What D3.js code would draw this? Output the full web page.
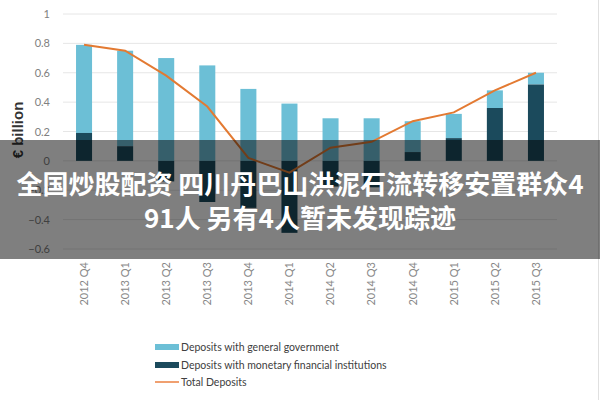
<!DOCTYPE html>
<html><head><meta charset="utf-8">
<script src="https://cdn.jsdelivr.net/npm/d3@7"></script>
<style>html,body{margin:0;padding:0;background:#fff;}svg{display:block;}</style>
</head><body>
<svg id="chart" width="600" height="400"></svg>
<script>
const categories = ["2012 Q4","2013 Q1","2013 Q2","2013 Q3","2013 Q4","2014 Q1","2014 Q2","2014 Q3","2014 Q4","2015 Q1","2015 Q2","2015 Q3"];
const govDeposits = [0.60, 0.65, 0.70, 0.65, 0.49, 0.39, 0.29, 0.29, 0.21, 0.165, 0.12, 0.08];
const mfiDeposits = [0.19, 0.10, -0.14, -0.28, -0.32, -0.49, -0.175, -0.18, 0.06, 0.155, 0.36, 0.52];
const totalDeposits = [0.79, 0.75, 0.58, 0.37, 0.02, -0.08, 0.09, 0.13, 0.27, 0.33, 0.48, 0.60];
const yTicks = [-0.6, -0.4, -0.2, 0, 0.2, 0.4, 0.6, 0.8, 1];
const legendLabels = ["Deposits with general government", "Deposits with monetary financial institutions", "Total Deposits"];
const bannerLines = ["全国炒股配资 四川丹巴山洪泥石流转移安置群众4", "91人 另有4人暂未发现踪迹"];

const colLight = "#6cbfd6", colDark = "#1b4a5c", colLine = "#e37a32";
const svg = d3.select("#chart");

const x = d3.scaleBand().domain(categories).range([63.5, 556.5]).paddingInner(0.61).paddingOuter(0.305);
const y = d3.scaleLinear().domain([-0.6, 1]).range([249, 14]);

// gridlines
svg.append("g").selectAll("line").data(yTicks).join("line")
  .attr("x1", 63).attr("x2", 557)
  .attr("y1", d => y(d)).attr("y2", d => y(d))
  .attr("stroke", "#e6e6e6").attr("stroke-width", 1);

// y axis labels
const yAxis = d3.axisLeft(y).tickValues(yTicks).tickSize(0).tickPadding(0)
  .tickFormat(d => d === 0 ? "0" : d3.format("")(+d.toFixed(1)));
const ya = svg.append("g").attr("transform", "translate(50,0)").call(yAxis);
ya.select(".domain").remove();
ya.selectAll("text").attr("font-family", "Lato, 'Open Sans', sans-serif").attr("font-size", 11).attr("fill", "#808080");

// y title
svg.append("text").attr("transform", "translate(23,130) rotate(-90)")
  .attr("text-anchor", "middle").attr("font-family", "'Liberation Sans', Arial, sans-serif")
  .attr("font-weight", "bold").attr("font-size", 15).attr("fill", "#333").text("€ billion");

// stacked bars
const gBars = svg.append("g");
categories.forEach((c, i) => {
  const m = mfiDeposits[i], g = govDeposits[i];
  const base = Math.max(m, 0);
  // gov (light) on top of positive part
  gBars.append("rect").attr("x", x(c)).attr("width", x.bandwidth())
    .attr("y", y(base + g)).attr("height", y(base) - y(base + g)).attr("fill", colLight);
  // mfi (dark)
  gBars.append("rect").attr("x", x(c)).attr("width", x.bandwidth())
    .attr("y", y(Math.max(m, 0))).attr("height", Math.abs(y(m) - y(0))).attr("fill", colDark);
});

// total line
const line = d3.line().x((d, i) => x(categories[i]) + x.bandwidth() / 2).y(d => y(d));
svg.append("path").datum(totalDeposits).attr("d", line)
  .attr("fill", "none").attr("stroke", colLine).attr("stroke-width", 2);

// x axis labels
const xAxis = d3.axisBottom(x).tickSize(0).tickPadding(0);
const xa = svg.append("g").attr("transform", "translate(0,262)").call(xAxis);
xa.select(".domain").remove();
xa.selectAll("text").attr("transform", "rotate(-90)").attr("text-anchor", "end")
  .attr("x", 0).attr("y", 0).attr("dy", "0.35em")
  .attr("font-family", "Lato, 'Open Sans', sans-serif").attr("font-size", 11).attr("fill", "#888");

// legend
const lg = svg.append("g");
const legY = [347, 365, 382];
const colors = [colLight, colDark, colLine];
legendLabels.forEach((t, i) => {
  if (i < 2) {
    lg.append("rect").attr("x", 155).attr("y", legY[i] - 3).attr("width", 24).attr("height", 6).attr("fill", colors[i]);
  } else {
    lg.append("line").attr("x1", 155).attr("x2", 179).attr("y1", legY[i]).attr("y2", legY[i])
      .attr("stroke", "#f0a070").attr("stroke-width", 2);
  }
  lg.append("text").attr("x", 181).attr("y", legY[i]).attr("dy", "0.35em")
    .attr("font-family", "Lato, 'Open Sans', sans-serif").attr("font-size", 10.5).attr("fill", "#404040").text(t);
});

// right border line
svg.append("line").attr("x1", 598.5).attr("x2", 598.5).attr("y1", 0).attr("y2", 400).attr("stroke", "#e0e0e0");

// banner overlay
svg.append("rect").attr("x", 0).attr("y", 140).attr("width", 600).attr("height", 119).attr("fill", "rgba(0,0,0,0.5)");
bannerLines.forEach((t, i) => {
  svg.append("text").attr("x", 300).attr("y", 185 + i * 34).attr("dy", "0.35em")
    .attr("text-anchor", "middle").attr("font-family", "'Noto Sans CJK SC', sans-serif")
    .attr("font-weight", "bold").attr("font-size", 26).attr("fill", "#fff").text(t);
});
</script>
</body></html>
